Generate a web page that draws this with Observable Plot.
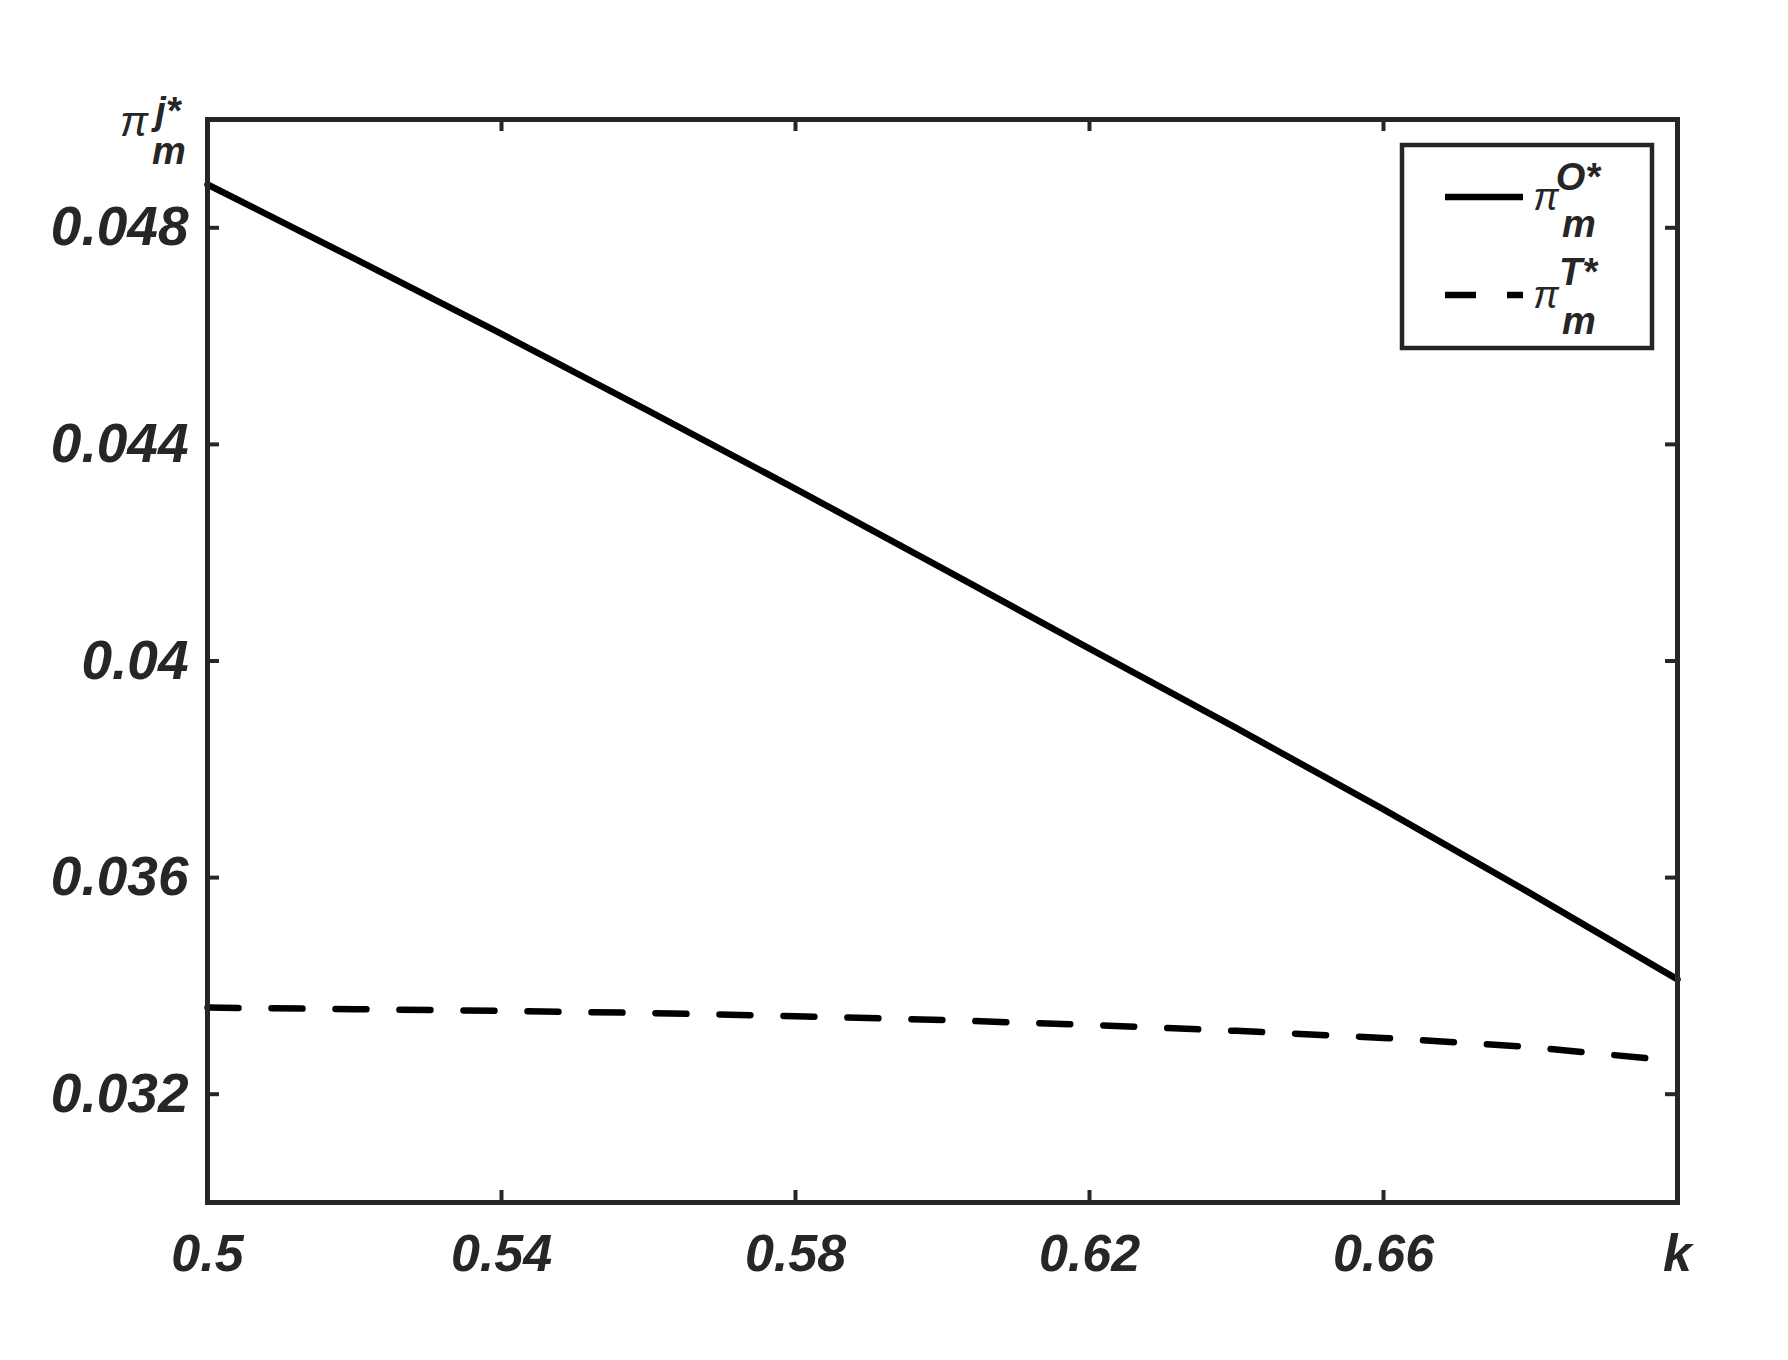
<!DOCTYPE html>
<html><head><meta charset="utf-8">
<script src="https://cdn.jsdelivr.net/npm/d3@7"></script>
<script src="https://cdn.jsdelivr.net/npm/@observablehq/plot@0.6"></script>
<style>
body{margin:0;background:#fff}
#chart{position:relative;width:1788px;height:1360px}
</style>
</head><body><div id="chart"></div>
<script>
// Data
const kValues = [0.50, 0.52, 0.54, 0.56, 0.58, 0.60, 0.62, 0.64, 0.66, 0.68, 0.70];
const piO = [0.04880, 0.04743, 0.04604, 0.04462, 0.04318, 0.04171, 0.04023, 0.03876, 0.03726, 0.03571, 0.03412];
const piT = [0.03360, 0.03357, 0.03354, 0.03350, 0.03344, 0.03337, 0.03328, 0.03317, 0.03304, 0.03287, 0.03261];
const xTicks = [0.5, 0.54, 0.58, 0.62, 0.66, 0.70];
const xTickLabels = ["0.5", "0.54", "0.58", "0.62", "0.66", "k"];
const yTicks = [0.032, 0.036, 0.040, 0.044, 0.048];
const yTickLabels = ["0.032", "0.036", "0.04", "0.044", "0.048"];
const xDomain = [0.5, 0.7];
const yDomain = [0.030, 0.050];

const rowsO = kValues.map((k, i) => ({k, v: piO[i]}));
const rowsT = kValues.map((k, i) => ({k, v: piT[i]}));

const W = 1788, H = 1360;
const M = {top: 119, right: 111, bottom: 158, left: 207};
const innerH = H - M.top - M.bottom;
const innerW = W - M.left - M.right;
const tickLen = 12;
const axisColor = "#262626";
const innerXTicks = xTicks.slice(1, -1);

const plot = Plot.plot({
  width: W, height: H,
  marginTop: M.top, marginRight: M.right, marginBottom: M.bottom, marginLeft: M.left,
  style: {fontFamily: "'Liberation Sans', Arial, sans-serif", fontWeight: "bold", fontStyle: "italic", fontSize: "52px", color: axisColor, background: "#fff"},
  x: {domain: xDomain, ticks: xTicks, label: null},
  y: {domain: yDomain, ticks: yTicks, label: null},
  marks: [
    Plot.lineY(rowsO, {x: "k", y: "v", stroke: "#000", strokeWidth: 6.5}),
    Plot.lineY(rowsT, {x: "k", y: "v", stroke: "#000", strokeWidth: 6.5, strokeDasharray: "31,33"}),
    Plot.tickX(innerXTicks, {x: d => d, stroke: axisColor, strokeWidth: 4, insetTop: innerH - tickLen}),
    Plot.tickX(innerXTicks, {x: d => d, stroke: axisColor, strokeWidth: 4, insetBottom: innerH - tickLen}),
    Plot.tickY(yTicks, {y: d => d, stroke: axisColor, strokeWidth: 4, insetRight: innerW - tickLen}),
    Plot.tickY(yTicks, {y: d => d, stroke: axisColor, strokeWidth: 4, insetLeft: innerW - tickLen}),
    Plot.axisX(xTicks, {tickSize: 0, tickPadding: 32, label: null, tickFormat: d => xTickLabels[xTicks.indexOf(d)], fill: axisColor}),
    Plot.axisY(yTicks, {tickSize: 0, tickPadding: 19, label: null, fontSize: 55, tickFormat: d => yTickLabels[yTicks.indexOf(d)], fill: axisColor}),
    Plot.frame({stroke: axisColor, strokeWidth: 5})
  ]
});
document.getElementById("chart").appendChild(plot);

const svg = d3.select(plot);
const fam = "'Liberation Sans', Arial, sans-serif";
function addText(g, x, y, txt, size, weight) {
  g.append("text").attr("x", x).attr("y", y).attr("font-family", fam)
    .attr("font-size", size).attr("font-weight", weight).attr("font-style", "italic")
    .attr("fill", axisColor).text(txt);
}
// y-axis title  π_m^{j*}
const yt = svg.append("g");
addText(yt, 134, 136, "π", 42, "normal");
addText(yt, 168, 124, "j*", 38, "bold");
addText(yt, 169, 164, "m", 38, "bold");

// legend
const lg = svg.append("g");
lg.append("rect").attr("x", 1402).attr("y", 145).attr("width", 250).attr("height", 203)
  .attr("fill", "#fff").attr("stroke", axisColor).attr("stroke-width", 4.5);
lg.append("line").attr("x1", 1445).attr("x2", 1523).attr("y1", 197).attr("y2", 197)
  .attr("stroke", "#000").attr("stroke-width", 6.5);
lg.append("line").attr("x1", 1445).attr("x2", 1523).attr("y1", 295).attr("y2", 295)
  .attr("stroke", "#000").attr("stroke-width", 6.5).attr("stroke-dasharray", "31,31");
addText(lg, 1546, 210, "π", 38, "normal");
addText(lg, 1578, 190, "O*", 38, "bold");
addText(lg, 1579, 237, "m", 38, "bold");
addText(lg, 1546, 308, "π", 38, "normal");
addText(lg, 1578, 285, "T*", 38, "bold");
addText(lg, 1579, 334, "m", 38, "bold");
</script>
</body></html>
